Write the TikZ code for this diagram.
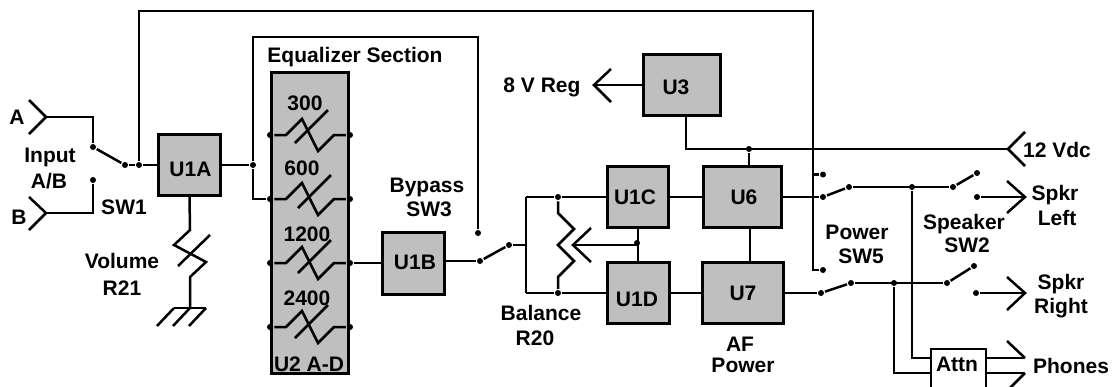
\documentclass[tikz,border=0pt]{standalone}
\usepackage{fontspec}
\setmainfont{Liberation Sans}
\definecolor{boxgray}{HTML}{BFBFBF}
\tikzset{
  wire/.style={line width=2.5pt,black,line join=miter},
  blk/.style={draw=black,fill=boxgray,line width=2.9pt,inner sep=0pt,anchor=center},
  atn/.style={draw=black,fill=white,line width=2.3pt,inner sep=0pt},
  lbl/.style={font=\fontsize{21}{21}\selectfont\bfseries,inner sep=0pt,anchor=center,text height=14.4pt,text depth=0pt},
  jn/.style={circle,fill=black,draw=none,minimum size=6pt,inner sep=0pt},
}
\newcommand{\jd}[2]{\node[jn] (#1) at (#2) {};}
\newcommand{\mybox}[6]{\node[blk,minimum width={#4-#2-2.9pt},minimum height={#5-#3-2.9pt}] (#1) at ({(#2+#4)/2},{(#3+#5)/2}) {};\node[lbl] (#1t) at (#6) {#1};}
\begin{document}
\begin{tikzpicture}[x=1pt,y=-1pt,wire]
\useasboundingbox (0,0) rectangle (1112,386);
\clip (0,0) rectangle (1112,386);
\mybox{U1A}{157}{133}{222}{197}{190.5,169}
\mybox{U1B}{381}{231}{446}{296}{415,262}
\mybox{U1C}{606}{165}{670}{229}{635,197}
\mybox{U1D}{606}{261}{671}{325}{637,299}
\mybox{U6}{702}{165}{783}{229}{744,197}
\mybox{U7}{701}{261}{785}{325}{743,293}
\mybox{U3}{642}{53}{722}{117}{676,87}
\node[blk,minimum width=77.1pt,minimum height=301.1pt] (U2) at (310,223) {};
\node[atn,minimum width=55pt,minimum height=50pt] (Attn) at (958.5,374) {};
% junctions
\jd{swa}{93,147}\jd{swb}{93,180}\jd{swc}{125,165}\jd{jin}{139,165}
\jd{jeq}{253,165}
\foreach \nn/\yy in {a/135,b/199,c/263,d/327}{
  \jd{l\nn}{270,\yy}\jd{r\nn}{350,\yy}
}
\jd{bpa}{480,261}\jd{bpb}{509,245}\jd{bpc}{478,233}
\jd{bt}{558,197}\jd{bb}{558,293}\jd{bw}{637,243}
\jd{pa}{823,197}\jd{pb}{849,187}\jd{pc}{823,174.5}\jd{pd}{912,187}\jd{pe}{953,187}\jd{pf}{977,173}\jd{pg}{977,197}
\jd{qa}{821,293}\jd{qb}{851,283}\jd{qc}{823,270}\jd{qd}{894,283}\jd{qe}{947,283}\jd{qf}{974,266}\jd{qg}{976,293}
\jd{vj}{749,149}
% named end coordinates
\coordinate (ta) at (46,117);\coordinate (tb) at (46,213);
\coordinate (t12) at (1008,149);
\coordinate (t8) at (594,85);
\coordinate (tl) at (1025,197);\coordinate (tr) at (1025,293);
\coordinate (tpa) at (1025,358);\coordinate (tpb) at (1025,373);
\coordinate (gnd) at (190,308);
\coordinate (ch) at (573,245);
% input
\draw (29,100) -- (ta) -- (29,134);
\draw (29,197) -- (tb) -- (29,230);
\draw (ta) -| (swa);
\draw (tb) -| (swb);
\draw (swa) -- (swc);
\draw (swc) -- (jin);
\draw (jin) -- (U1A.west |- jin);
% top wire
\draw (jin) |- (813,11) -- (813,270) -- (qc);
\draw (813,174.5) -- (pc);
% U1A output and equalizer feed
\draw (U1A.east |- jeq) -- (jeq);
\draw (jeq) -- (253,199) -- (lb);
\draw (jeq) -- (253,37) -| (bpc);
% volume
\draw (U1A.south) -- (190,230) -- (174,245) -- (206,262) -- (190,277) -- (gnd);
\draw (178,266) -- (210,235);
\draw (174,308) -- (206,308);
\draw (206,308) -- (189,326);
\draw (190,308) -- (173,326);
\draw (174,308) -- (157,326);
% resistors in U2
\foreach \nn/\yy in {a/135, b/199, c/263, d/327}{
  \draw (l\nn) -- (286,\yy) -- ++(16,-16) -- ++(16,32) -- ++(16,-16) -- (r\nn);
}
\draw (295,143) -- (328,110);
\draw (298,208) -- (331,175);
\draw (298,273) -- (331,240);
\draw (295,338) -- (328,305);
% to U1B
\draw (rc) -- (U1B.west |- rc);
\draw (U1B.east |- bpa) -- (bpa);
\draw (bpa) -- (bpb);
\draw (bpb) -- (526,245);
\draw (526,197) -- (526,293);
\draw (526,197) -- (bt);
\draw (bt) -- (U1C.west);
\draw (526,293) -- (bb);
\draw (bb) -- (U1D.west |- bb);
% balance
\draw (bt) -- (558,213) -- (574,229) -- (558,245) -- (574,261) -- (558,277) -- (bb);
\draw (591,228) -- (ch) -- (591,262);
\draw (ch) -- (ch -| bw);
\draw (638,229) -- (638,261);
% U1-U6/U7
\draw (U1C.east) -- (U6.west);
\draw (U1D.east |- bb) -- (U7.west |- bb);
\draw (750,229) -- (750,261);
% 12V / U3
\draw (686,117) -- (686,149) -- (t12);
\draw (1025,132) -- (t12) -- (1025,166);
\draw (vj) -- (749,165);
% 8V
\draw (U3.west |- t8) -- (t8);
\draw (611,69) -- (t8) -- (611,102);
% switches
\draw (U6.east) -- (pa);
\draw (pa) -- (pb);
\draw (pb) -- (pe);
\draw (pe) -- (pf);
\draw (pg) -- (tl);
\draw (1007,181) -- (tl) -- (1007,213);
\draw (U7.east |- qa) -- (qa);
\draw (qa) -- (qb);
\draw (qb) -- (qe);
\draw (qe) -- (qf);
\draw (qg) -- (tr);
\draw (1007,277) -- (tr) -- (1007,310);
% attn
\draw (pd) |- (Attn.west |- tpa);
\draw (qd) |- (Attn.west |- tpb);
\draw (Attn.east |- tpa) -- (tpa);
\draw (Attn.east |- tpb) -- (tpb);
\draw (1007,341) -- (tpa);
\draw (tpb) -- (1006,392);
% labels
\node[lbl] (tA) at (17,117) {A};
\node[lbl] (tB) at (19,217) {B};
\node[lbl] (tI1) at (50,155) {Input};
\node[lbl] (tI2) at (49,181) {A/B};
\node[lbl] (tS1) at (124,207) {SW1};
\node[lbl] (tV1) at (122,261) {Volume};
\node[lbl] (tV2) at (122,288) {R21};
\node[lbl] (tEq) at (355,55) {Equalizer Section};
\node[lbl] (t300) at (305,103) {300};
\node[lbl] (t600) at (302,168) {600};
\node[lbl] (t1200) at (307,234) {1200};
\node[lbl] (t2400) at (307,298) {2400};
\node[lbl] (tU2) at (309,364) {U2 A-D};
\node[lbl] (tBy1) at (427,185) {Bypass};
\node[lbl] (tBy2) at (429,209) {SW3};
\node[lbl] (tBa1) at (541,313) {Balance};
\node[lbl] (tBa2) at (535,338) {R20};
\node[lbl] (t8V) at (542,85) {8 V Reg};
\node[lbl] (tAF1) at (740,344) {AF};
\node[lbl] (tAF2) at (743,365) {Power};
\node[lbl] (tP1) at (857,232) {Power};
\node[lbl] (tP2) at (861,256) {SW5};
\node[lbl] (tSp1) at (964,222) {Speaker};
\node[lbl] (tSp2) at (967,245) {SW2};
\node[lbl] (t12V) at (1057,150) {12 Vdc};
\node[lbl] (tL1) at (1055,193) {Spkr};
\node[lbl] (tL2) at (1057,218) {Left};
\node[lbl] (tR1) at (1061,282) {Spkr};
\node[lbl] (tR2) at (1061,306) {Right};
\node[lbl] (tPh) at (1071,366) {Phones};
\node[lbl] (tAt) at (957,364) {Attn};
\end{tikzpicture}
\end{document}
